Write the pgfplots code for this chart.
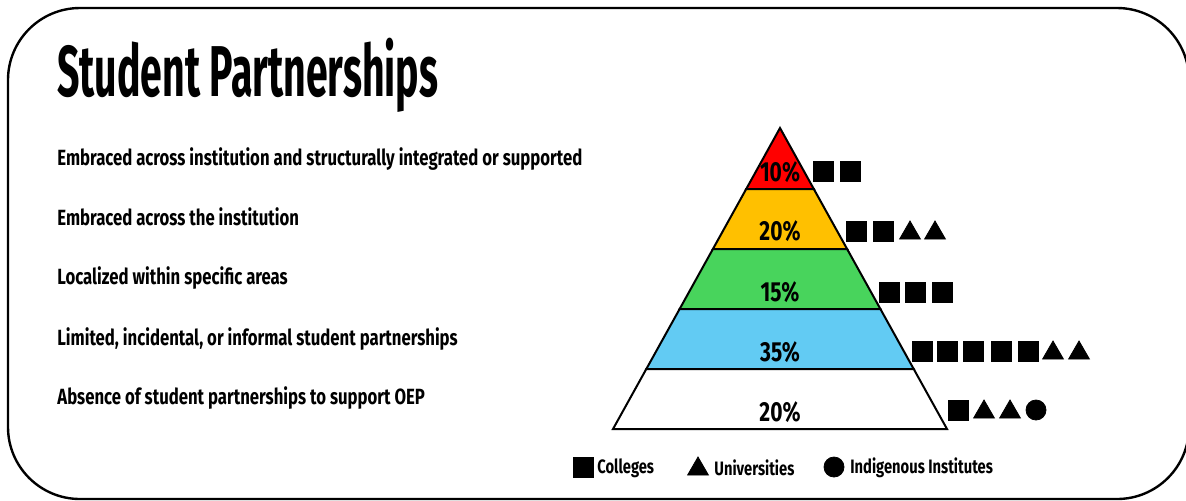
\documentclass[border=0pt]{standalone}
\usepackage{pgfplots}
\pgfplotsset{compat=1.18}
\usepackage{pgfplotstable}
\usepackage{fontspec}
\newfontfamily\titlefont{Fira Sans}[FakeStretch=0.545]
\newfontfamily\bodyfont{Fira Sans}[FakeStretch=0.76]

\definecolor{lyrred}{HTML}{FF0000}
\definecolor{lyrorange}{HTML}{FFC000}
\definecolor{lyrgreen}{HTML}{48D45C}
\definecolor{lyrblue}{HTML}{62CBF3}

% marker positions, in pixel units of the 1186x500 frame (y grows downwards)
\pgfplotstableread{
x y
823 171
850 171
856 231
883 231
889 292
915 292
942 292
922 351
947 351
973 351
1001 351
1028 351
958 410
583 467
}\squares
\pgfplotstableread{
x y
910 233
935 233
1053 353
1079 353
984 412
1010 412
698 469
}\triangles
\pgfplotstableread{
x y
1036 410
834 467
}\circles

\begin{document}
\begin{tikzpicture}
\useasboundingbox (0,0) rectangle (593pt,250pt);
\clip (0,0) rectangle (593pt,250pt);
\begin{axis}[
  at={(0,0)}, anchor=south west,
  scale only axis,
  width=593pt, height=250pt,
  xmin=0, xmax=1186, ymin=0, ymax=500,
  y dir=reverse,
  hide axis,
  clip=false,
]
% frame
\draw[line width=1.2pt, rounded corners=36pt] (8,8) rectangle (1189,499);

% pyramid layers
\addplot[fill=lyrred, draw=black, line width=1pt] coordinates {(780,128) (813.8,189) (746.2,189)} -- cycle;
\addplot[fill=lyrorange, draw=black, line width=1pt] coordinates {(746.2,189) (813.8,189) (847.1,249) (712.9,249)} -- cycle;
\addplot[fill=lyrgreen, draw=black, line width=1pt] coordinates {(712.9,249) (847.1,249) (880.4,309) (679.6,309)} -- cycle;
\addplot[fill=lyrblue, draw=black, line width=1pt] coordinates {(679.6,309) (880.4,309) (913.7,369) (646.3,369)} -- cycle;
\addplot[fill=white, draw=black, line width=1pt] coordinates {(646.3,369) (913.7,369) (947,429) (613,429)} -- cycle;

% symbols
\addplot[only marks, mark=square*, mark size=5pt, black] table {\squares};
\addplot[only marks, mark=triangle*, mark size=6pt, black] table {\triangles};
\addplot[only marks, mark=*, mark size=5pt, black] table {\circles};

% percentages
\begin{scope}[font=\bodyfont\bfseries\fontsize{13.8}{15}\selectfont]
\node at (780,172) {10\%};
\node at (780,231) {20\%};
\node at (780,292) {15\%};
\node at (780,352) {35\%};
\node at (780,412) {20\%};
\end{scope}

% title
\node[anchor=base west, inner sep=0pt, font=\titlefont\bfseries\fontsize{36}{40}\selectfont] at (57,96) {Student Partnerships};

% level labels
\begin{scope}[font=\bodyfont\bfseries\fontsize{11}{13}\selectfont, inner sep=0pt]
\node[anchor=west] at (57,159) {Embraced across institution and structurally integrated or supported};
\node[anchor=west] at (57,217) {Embraced across the institution};
\node[anchor=west] at (57,278) {Localized within specific areas};
\node[anchor=west] at (57,339) {Limited, incidental, or informal student partnerships};
\node[anchor=west] at (57,398) {Absence of student partnerships to support OEP};
\end{scope}

% legend
\begin{scope}[font=\bodyfont\bfseries\fontsize{9.7}{11}\selectfont, inner sep=0pt]
\node[anchor=west] at (597,468) {Colleges};
\node[anchor=west] at (714,468) {Universities};
\node[anchor=west] at (850,468) {Indigenous Institutes};
\end{scope}
\end{axis}
\end{tikzpicture}
\end{document}
